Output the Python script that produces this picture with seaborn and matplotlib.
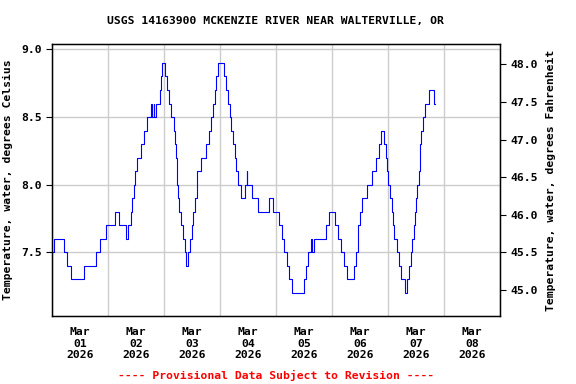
import matplotlib
matplotlib.use('Agg')
import numpy as np
import pandas as pd
import matplotlib.pyplot as plt
import matplotlib.dates as mdates
import seaborn as sns

plt.rcParams['font.family'] = ['DejaVu Sans Mono']
plt.rcParams['font.weight'] = 'bold'

# hours after 2026-03-01 00:00 where the reading changes, and the new value (deg C)
change_hours = [0, 0.8, 5.2, 6.3, 8.3, 13.6, 18.7, 20.5, 23.0, 27.1, 28.5, 31.7, 32.6, 33.7,
                34.3, 35.0, 35.7, 36.3, 38.2, 39.4, 40.5, 42.2, 42.8, 43.7, 43.9, 44.5, 46.2,
                46.6, 47.3, 48.6, 49.4, 50.2, 51.1, 52.1, 52.6, 53.1, 53.4, 53.6, 54.0, 54.6,
                55.3, 56.1, 56.8, 57.5, 58.3, 59.3, 59.9, 60.6, 61.2, 62.0, 62.3, 63.8, 66.0,
                67.3, 68.0, 69.0, 69.7, 70.3, 71.2, 73.7, 74.7, 75.5, 76.3, 76.9, 77.4, 78.3,
                78.8, 79.8, 81.1, 82.8, 83.4, 83.7, 85.5, 88.4, 93.1, 94.8, 97.4, 98.4, 99.5,
                100.5, 101.6, 102.9, 107.8, 108.7, 109.8, 110.9, 111.3, 112.2, 117.6, 118.7,
                121.2, 122.6, 123.7, 125.1, 126.4, 129.4, 130.2, 131.1, 131.8, 133.0, 135.0,
                137.0, 139.0, 140.0, 140.8, 142.2, 142.9, 143.5, 143.9, 145.0, 145.5, 146.1,
                146.5, 147.6, 148.5, 149.4, 151.4, 152.0, 153.1, 153.9, 154.4, 155.0, 155.5,
                156.1, 156.5, 157.2, 157.5, 158.2, 159.0, 159.9, 161.5, 163.6, 164.0]
temp_c = [7.5, 7.6, 7.5, 7.4, 7.3, 7.4, 7.5, 7.6, 7.7, 7.8, 7.7, 7.6, 7.7, 7.8,
          7.9, 8.0, 8.1, 8.2, 8.3, 8.4, 8.5, 8.6, 8.5, 8.6, 8.5, 8.6, 8.7,
          8.8, 8.9, 8.8, 8.7, 8.6, 8.5, 8.4, 8.3, 8.2, 8.1, 8.0, 7.9, 7.8,
          7.7, 7.6, 7.5, 7.4, 7.5, 7.6, 7.7, 7.8, 7.9, 8.0, 8.1, 8.2, 8.3,
          8.4, 8.5, 8.6, 8.7, 8.8, 8.9, 8.8, 8.7, 8.6, 8.5, 8.4, 8.3, 8.2,
          8.1, 8.0, 7.9, 8.0, 8.1, 8.0, 7.9, 7.8, 7.9, 7.8, 7.7, 7.6, 7.5,
          7.4, 7.3, 7.2, 7.3, 7.4, 7.5, 7.6, 7.5, 7.6, 7.7, 7.8,
          7.7, 7.6, 7.5, 7.4, 7.3, 7.4, 7.5, 7.7, 7.8, 7.9, 8.0,
          8.1, 8.2, 8.3, 8.4, 8.3, 8.2, 8.1, 8.0, 7.9, 7.8, 7.7,
          7.6, 7.5, 7.4, 7.3, 7.2, 7.3, 7.4, 7.5, 7.6, 7.7, 7.8,
          7.9, 8.0, 8.1, 8.3, 8.4, 8.5, 8.6, 8.7, 8.6, 8.6]

c_ticks = [7.5, 8.0, 8.5, 9.0]
f_ticks = [45.0, 45.5, 46.0, 46.5, 47.0, 47.5, 48.0]

start = pd.Timestamp('2026-03-01')
df = pd.DataFrame({'time': start + pd.to_timedelta(change_hours, unit='h'), 'temp': temp_c})

fig = plt.figure(figsize=(5.76, 3.84), dpi=100)
ax = fig.add_axes([0.0903, 0.177, 0.778, 0.708])

sns.lineplot(data=df, x='time', y='temp', drawstyle='steps-post', color='#0000ff',
             linewidth=0.8, ax=ax, zorder=3)

ylo, yhi = 7.029, 9.039
ax.set_ylim(ylo, yhi)
ax.set_xlim(start, start + pd.Timedelta(days=8))
ax.set_yticks(c_ticks)
ax.set_yticklabels([f'{v:.1f}' for v in c_ticks], fontsize=8.2)
ax.set_ylabel('Temperature, water, degrees Celsius', fontsize=8.2, fontweight='bold', labelpad=6)
ax.set_xlabel('')

ax.xaxis.set_major_locator(mdates.DayLocator())
ax.xaxis.set_major_formatter(plt.NullFormatter())
ax.xaxis.set_minor_locator(mdates.HourLocator(byhour=[12]))
ax.xaxis.set_minor_formatter(mdates.DateFormatter('%b\n%d\n%Y'))
ax.tick_params(axis='x', which='both', length=0, labelsize=8.2, pad=8)
ax.tick_params(axis='y', length=4, width=0.8)
ax.grid(True, which='major', color='#cccccc', linewidth=1.0)
for s in ax.spines.values():
    s.set_linewidth(1.0)
    s.set_color('black')

ax2 = ax.twinx()
ax2.set_ylim(ylo * 1.8 + 32, yhi * 1.8 + 32)
ax2.set_yticks(f_ticks)
ax2.set_yticklabels([f'{v:.1f}' for v in f_ticks], fontsize=8.2)
ax2.tick_params(axis='y', length=4, width=0.8)
ax2.set_ylabel('Temperature, water, degrees Fahrenheit', fontsize=8.2, fontweight='bold',
               labelpad=6)

fig.text(0.479, 0.945, 'USGS 14163900 MCKENZIE RIVER NEAR WALTERVILLE, OR',
         ha='center', va='center', fontsize=8.2, fontweight='bold')
fig.text(0.479, 0.023, '---- Provisional Data Subject to Revision ----',
         ha='center', va='center', fontsize=8.2, fontweight='bold', color='red')

fig.savefig('out.png', dpi=100)
